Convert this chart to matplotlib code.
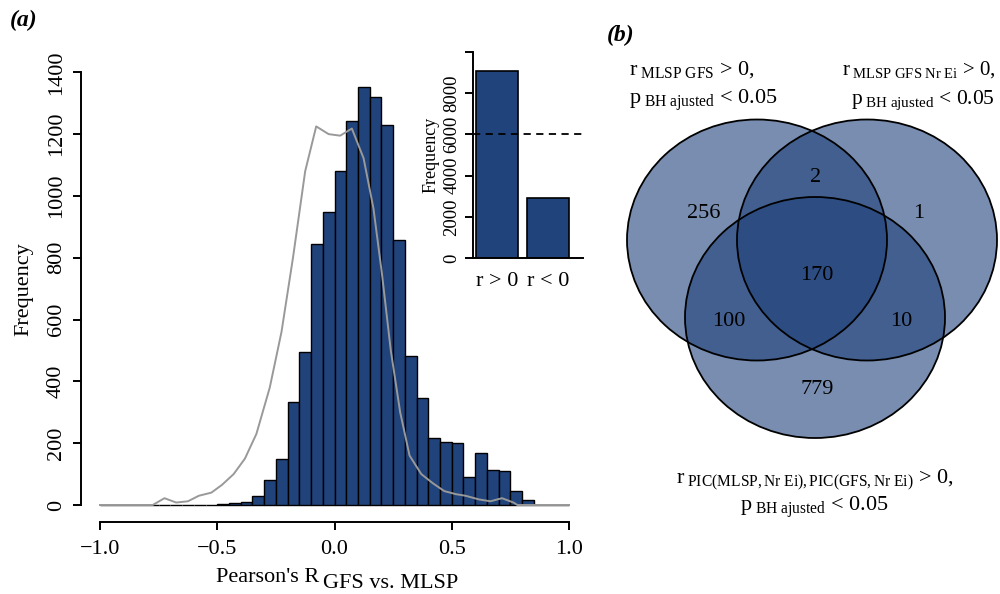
import matplotlib
matplotlib.use("Agg")
import matplotlib.pyplot as plt
import numpy as np
from matplotlib.patches import Ellipse

plt.rcParams["font.family"] = ["Liberation Serif", "DejaVu Serif"]
plt.rcParams["mathtext.fontset"] = "custom"
plt.rcParams["mathtext.rm"] = "Liberation Serif"
plt.rcParams["mathtext.it"] = "Liberation Serif:italic"

# Histogramme : 40 classes de largeur 0.05 entre -1 et 1
bord_gauche = -1.0
largeur_classe = 0.05
effectifs = [0, 0, 0, 0, 0, 0, 0, 0, 0, 0,
             2, 5, 10, 30, 82, 149, 332, 495, 846, 947,
             1082, 1241, 1354, 1320, 1228, 856, 483, 346, 216, 204,
             199, 92, 169, 112, 109, 44, 16, 0, 0, 0]

# Courbe grise (distribution de référence)
courbe_x = [-1.0, -0.775, -0.725, -0.675, -0.625, -0.578, -0.525, -0.48, -0.43,
            -0.382, -0.333, -0.276, -0.226, -0.177, -0.125, -0.078, -0.025,
            0.024, 0.074, 0.124, 0.166, 0.202, 0.24, 0.28, 0.32, 0.37, 0.42,
            0.468, 0.518, 0.558, 0.616, 0.665, 0.714, 0.763, 0.78, 1.0]
courbe_y = [0, 0, 22, 8, 12, 30, 40, 65, 100, 150, 230, 380, 560, 800, 1080,
            1225, 1200, 1195, 1218, 1122, 960, 750, 500, 300, 160, 100, 70,
            45, 35, 30, 18, 12, 22, 8, 0, 0]

# Encart : nombre de corrélations positives / négatives
signes = ["r > 0", "r < 0"]
nb_signes = [9071, 2898]
seuil_moitie = 6000

# Diagramme de Venn
venn_valeurs = {"A": 256, "AB": 2, "B": 1, "ABC": 170, "AC": 100, "BC": 10, "C": 779}

bleu = "#21437b"

fig = plt.figure(figsize=(10, 5.94), dpi=100)

# ---- (a) histogramme ----
ax = fig.add_axes([0.0812, 0.1207, 0.5066, 0.7867])
bords = bord_gauche + largeur_classe * np.arange(len(effectifs))
ax.bar(bords, effectifs, width=largeur_classe, align="edge", color=bleu,
       edgecolor="black", linewidth=1.0)
ax.plot(courbe_x, courbe_y, color="#999999", linewidth=1.4)
ax.set_xlim(-1.08, 1.08)
ax.set_ylim(-56, 1456)
for cote in ["top", "right"]:
    ax.spines[cote].set_visible(False)
ax.spines["left"].set_bounds(0, 1400)
ax.spines["bottom"].set_bounds(-1, 1)
for cote in ["left", "bottom"]:
    ax.spines[cote].set_linewidth(1.4)
ax.set_xticks([-1.0, -0.5, 0.0, 0.5, 1.0])
ax.set_xticklabels(["\u22121.0", "\u22120.5", "0.0", "0.5", "1.0"], fontsize=16)
ax.set_yticks(range(0, 1401, 200))
ax.set_yticklabels([str(v) for v in range(0, 1401, 200)], rotation=90,
                   va="center", fontsize=16)
ax.tick_params(length=6, width=1.4, pad=5)
ax.tick_params(axis="x", pad=7)
ax.set_ylabel("Frequency", fontsize=16, labelpad=10)
fig.text(0.216, 0.020, "Pearson's R", fontsize=16, ha="left", va="baseline")
fig.text(0.323, 0.010, "GFS vs. MLSP", fontsize=16, ha="left", va="baseline")

# ---- encart ----
ax2 = fig.add_axes([0.473, 0.5652, 0.110, 0.3478])
ax2.bar([0.7, 1.9], nb_signes, width=1.0, color=bleu, edgecolor="black",
        linewidth=1.2)
ax2.axhline(seuil_moitie, color="black", linestyle=(0, (4, 3)), linewidth=1.3)
ax2.set_xlim(0.13, 2.73)
ax2.set_ylim(0, 10000)
for cote in ["top", "right"]:
    ax2.spines[cote].set_visible(False)
for cote in ["left", "bottom"]:
    ax2.spines[cote].set_linewidth(1.4)
ax2.set_yticks(range(0, 10001, 2000))
ax2.set_yticklabels([str(v) for v in range(0, 8001, 2000)] + [""], rotation=90,
                    va="center", fontsize=13.5)
ax2.set_xticks([0.7, 1.9])
ax2.set_xticklabels(signes, fontsize=16)
ax2.tick_params(axis="y", length=6, width=1.4, pad=3)
ax2.tick_params(axis="x", length=0, pad=10)
ax2.set_ylabel("Frequency", fontsize=13, labelpad=3)

fig.text(0.010, 0.965, "(a)", fontsize=17, fontweight="bold", style="italic",
         ha="left", va="center")
fig.text(0.607, 0.940, "(b)", fontsize=17, fontweight="bold", style="italic",
         ha="left", va="center")

# ---- (b) Venn ----
av = fig.add_axes([0.6, 0.0, 0.4, 1.0])
av.set_xlim(600, 1000)
av.set_ylim(594, 0)
av.axis("off")
couleur_venn = "#1f417a"
centres = {"A": (757, 240), "B": (867, 240), "C": (815, 317.5)}
for cle, (cx, cy) in centres.items():
    av.add_patch(Ellipse((cx, cy), 260, 241, facecolor=couleur_venn, alpha=0.6,
                         edgecolor="none"))
for cle, (cx, cy) in centres.items():
    av.add_patch(Ellipse((cx, cy), 260, 241, facecolor="none",
                         edgecolor="black", linewidth=1.3))

pos_venn = {"A": (704, 214), "AB": (816, 177), "B": (919, 214),
            "ABC": (817, 275), "AC": (729, 322), "BC": (901, 322),
            "C": (817, 389)}
for cle, val in venn_valeurs.items():
    av.text(*pos_venn[cle], str(val), fontsize=16, ha="center", va="center")

taille_sub = 16
av.text(629, 70, r"$\mathrm{r}_{\mathrm{\ MLSP\ GFS}}$ > 0,", fontsize=taille_sub,
        ha="left", va="center")
av.text(629, 100, r"$\mathrm{p}_{\mathrm{\ BH\ ajusted}}$ < 0.05", fontsize=taille_sub,
        ha="left", va="center")
av.text(996, 70, r"$\mathrm{r}_{\mathrm{\ MLSP\ GFS\ Nr\ Ei}}$ > 0,", fontsize=15,
        ha="right", va="center")
av.text(995, 100, r"$\mathrm{p}_{\mathrm{\ BH\ ajusted}}$ < 0.05", fontsize=15.5,
        ha="right", va="center")
av.text(815, 480, r"$\mathrm{r}_{\mathrm{\ PIC(MLSP,Nr\ Ei),PIC(GFS,Nr\ Ei)}}$ > 0,",
        fontsize=16, ha="center", va="center")
av.text(814, 507, r"$\mathrm{p}_{\mathrm{\ BH\ ajusted}}$ < 0.05", fontsize=16,
        ha="center", va="center")

fig.savefig("out.png", dpi=100)
